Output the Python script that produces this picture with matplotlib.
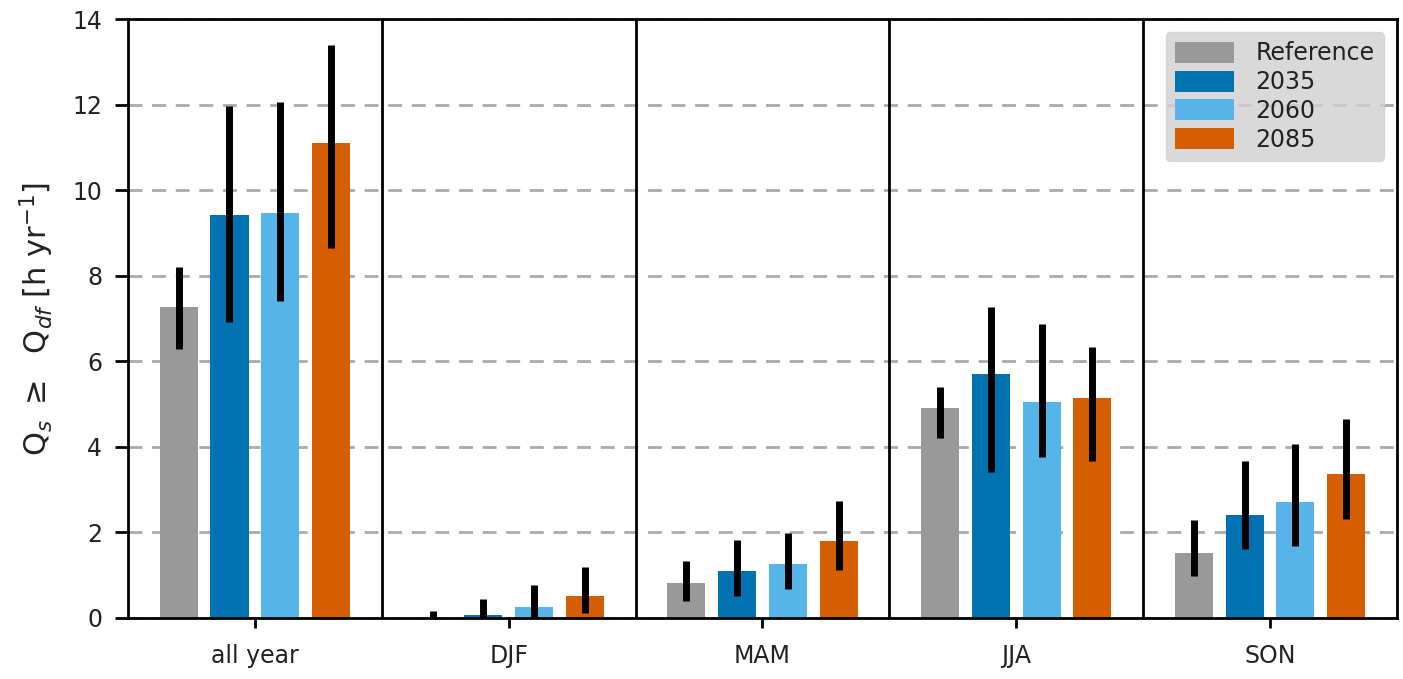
import matplotlib
matplotlib.use("Agg")
import matplotlib.pyplot as plt
import numpy as np

periods = ["all year", "DJF", "MAM", "JJA", "SON"]
series = ["Reference", "2035", "2060", "2085"]
colors = ["#999999", "#0072B2", "#56B4E9", "#D55E00"]

# mean hours per year, per series (rows) and period (columns)
ref_mean = [7.28, 0.0, 0.82, 4.90, 1.53]
y2035_mean = [9.41, 0.08, 1.09, 5.71, 2.40]
y2060_mean = [9.46, 0.25, 1.26, 5.04, 2.71]
y2085_mean = [11.10, 0.52, 1.79, 5.14, 3.36]

# lower / upper bounds of the spread
ref_low = [6.29, 0.0, 0.39, 4.21, 0.97]
ref_high = [8.20, 0.16, 1.32, 5.40, 2.30]
y2035_low = [6.91, 0.0, 0.51, 3.41, 1.61]
y2035_high = [11.97, 0.45, 1.82, 7.27, 3.66]
y2060_low = [7.41, 0.02, 0.68, 3.77, 1.68]
y2060_high = [12.06, 0.78, 1.99, 6.86, 4.06]
y2085_low = [8.65, 0.12, 1.12, 3.67, 2.31]
y2085_high = [13.40, 1.18, 2.73, 6.33, 4.66]

means = [ref_mean, y2035_mean, y2060_mean, y2085_mean]
lows = [ref_low, y2035_low, y2060_low, y2085_low]
highs = [ref_high, y2035_high, y2060_high, y2085_high]

fig = plt.figure(figsize=(14.03, 6.79), dpi=100)
ax = fig.add_axes([0.0912, 0.0899, 0.9045, 0.8821])

x = np.arange(len(periods))
width = 0.15
offsets = [-0.3, -0.1, 0.1, 0.3]

for m, lo, hi, c, lab, off in zip(means, lows, highs, colors, series, offsets):
    m = np.array(m)
    yerr = np.vstack([m - np.array(lo), np.array(hi) - m])
    ax.bar(x + off, m, width=width, color=c, label=lab, zorder=2)
    ax.errorbar(x + off, m, yerr=yerr, fmt="none", ecolor="black",
                elinewidth=5, capsize=0, zorder=3)

for sep in x[:-1] + 0.5:
    ax.axvline(sep, color="black", linewidth=2, zorder=4)

ax.set_xlim(-0.5, 4.5)
ax.set_ylim(0, 14)
ax.set_yticks(np.arange(0, 15, 2))
ax.set_xticks(x)
ax.set_xticklabels(periods)
ax.yaxis.grid(True, linestyle=(0, (5, 3.5)), color="#aaaaaa", linewidth=2)
ax.set_axisbelow(True)

for sp in ax.spines.values():
    sp.set_linewidth(2)
ax.tick_params(axis="y", labelsize=17, width=2, length=9.5, pad=9, labelcolor="#222222")
ax.tick_params(axis="x", labelsize=17, width=2, length=7, pad=12, labelcolor="#222222")

ax.set_ylabel(r"Q$_s$ $\geq$  Q$_{df}$ [h yr$^{-1}$]", fontsize=22, labelpad=12,
              color="#222222")

leg = ax.legend(loc="upper right", fontsize=17, handlelength=2.5, handleheight=1.0,
                labelspacing=0.2, handletextpad=0.9, borderaxespad=0.55,
                fancybox=True, framealpha=0.8, facecolor="#d0d0d0", edgecolor="#d0d0d0")
for t in leg.get_texts():
    t.set_color("#222222")

fig.savefig("out.png", dpi=100)
